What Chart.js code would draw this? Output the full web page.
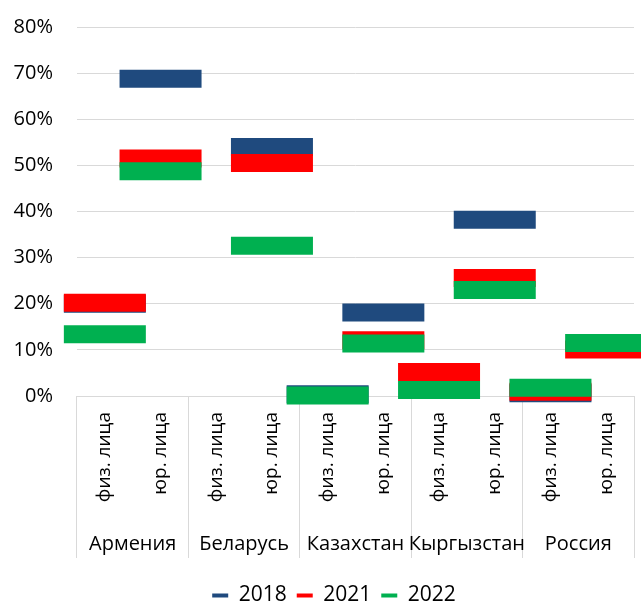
<!DOCTYPE html>
<html>
<head>
<meta charset="utf-8">
<script src="https://cdn.jsdelivr.net/npm/chart.js@4.4.0/dist/chart.umd.min.js"></script>
<style>
html,body{margin:0;padding:0;background:#ffffff;}
#wrap{width:641px;height:602px;position:relative;}
</style>
</head>
<body>
<div id="wrap"><canvas id="c" width="641" height="602"></canvas></div>
<script>
// ---- data (percent) ----
const countries = ['Армения', 'Беларусь', 'Казахстан', 'Кыргызстан', 'Россия'];
const subCategories = ['физ. лица', 'юр. лица'];
const yTicks = [0, 10, 20, 30, 40, 50, 60, 70, 80];

const seriesNames = ['2018', '2021', '2022'];
const values2018 = [20.0, 68.8, null, 54.0, 0.4, 18.1, null, 38.2, 0.6, null];
const values2021 = [20.2, 51.5, null, 50.5, null, 12.1, 5.2, 25.6, 0.9, 10.1];
const values2022 = [13.4, 48.7, null, 32.6, 0.1, 11.4, 1.3, 23.0, 1.8, 11.5];
const seriesColors = ['#1F4A7E', '#FF0000', '#00B050'];

// ---- build ----
const labels = [];
countries.forEach(() => subCategories.forEach(s => labels.push(s)));
const seriesValues = [values2018, values2021, values2022];

const FONT = "'Open Sans', sans-serif";
Chart.defaults.font.family = FONT;
Chart.defaults.color = '#000000';

// later series are drawn on top -> put them first in the dataset list
const datasets = seriesNames.map((name, i) => ({
  label: name,
  data: seriesValues[i],
  showLine: false,
  borderWidth: 0,
  borderColor: seriesColors[i],
  backgroundColor: seriesColors[i],
  pointStyle: 'line',
  pointRadius: 41,
  pointHoverRadius: 41,
  pointBorderWidth: 18,
  pointHoverBorderWidth: 18,
  pointBorderColor: seriesColors[i],
  pointBackgroundColor: seriesColors[i],
  clip: false
})).reverse();

const GRID = '#d9d9d9';
const noPad = (s) => { s.paddingLeft = 0; s.paddingRight = 0; s.paddingTop = 0; s.paddingBottom = 0; };

// legend in the reference sits a little right of the canvas centre
const legendShift = {
  id: 'legendShift',
  afterLayout(chart) {
    if (chart.legend) { chart.legend.left += 17; chart.legend.right += 17; }
  }
};

new Chart(document.getElementById('c'), {
  type: 'line',
  data: { labels: labels, datasets: datasets },
  plugins: [legendShift],
  options: {
    responsive: false,
    animation: false,
    devicePixelRatio: 1,
    events: [],
    layout: { autoPadding: false, padding: { top: 27, left: 0, right: 7, bottom: -14 } },
    plugins: {
      legend: {
        position: 'bottom',
        reverse: true,
        labels: { boxWidth: 16, boxHeight: 4, padding: 10, color: '#000', font: { family: FONT, size: 21 } }
      },
      tooltip: { enabled: false }
    },
    scales: {
      x: {
        type: 'category',
        offset: true,
        border: { display: false },
        grid: {
          display: true,
          drawOnChartArea: false,
          drawTicks: true,
          tickLength: 162,
          offset: true,
          lineWidth: 1,
          color: (c) => (c.index === undefined || c.index % 2 === 0) ? GRID : 'rgba(0,0,0,0)'
        },
        ticks: { autoSkip: false, minRotation: 90, maxRotation: 90, padding: -146, color: '#000', font: { family: FONT, size: 19 } },
        afterFit: (s) => { s.height = 132; noPad(s); }
      },
      x2: {
        type: 'category',
        labels: countries,
        position: 'bottom',
        offset: true,
        border: { display: false },
        grid: { display: false },
        ticks: { autoSkip: false, maxRotation: 0, minRotation: 0, padding: -4, color: '#000', font: { family: FONT, size: 20 } },
        afterFit: (s) => { s.height = 47; noPad(s); }
      },
      y: {
        min: yTicks[0],
        max: yTicks[yTicks.length - 1],
        border: { display: false },
        grid: { color: GRID, lineWidth: 1, drawTicks: false },
        afterBuildTicks: (s) => { s.ticks = yTicks.map(v => ({ value: v })); },
        ticks: { padding: 24, color: '#000', font: { family: FONT, size: 20 }, callback: (v) => v + '%' },
        afterFit: (s) => { s.width = 77; noPad(s); }
      }
    }
  }
});
</script>
</body>
</html>
